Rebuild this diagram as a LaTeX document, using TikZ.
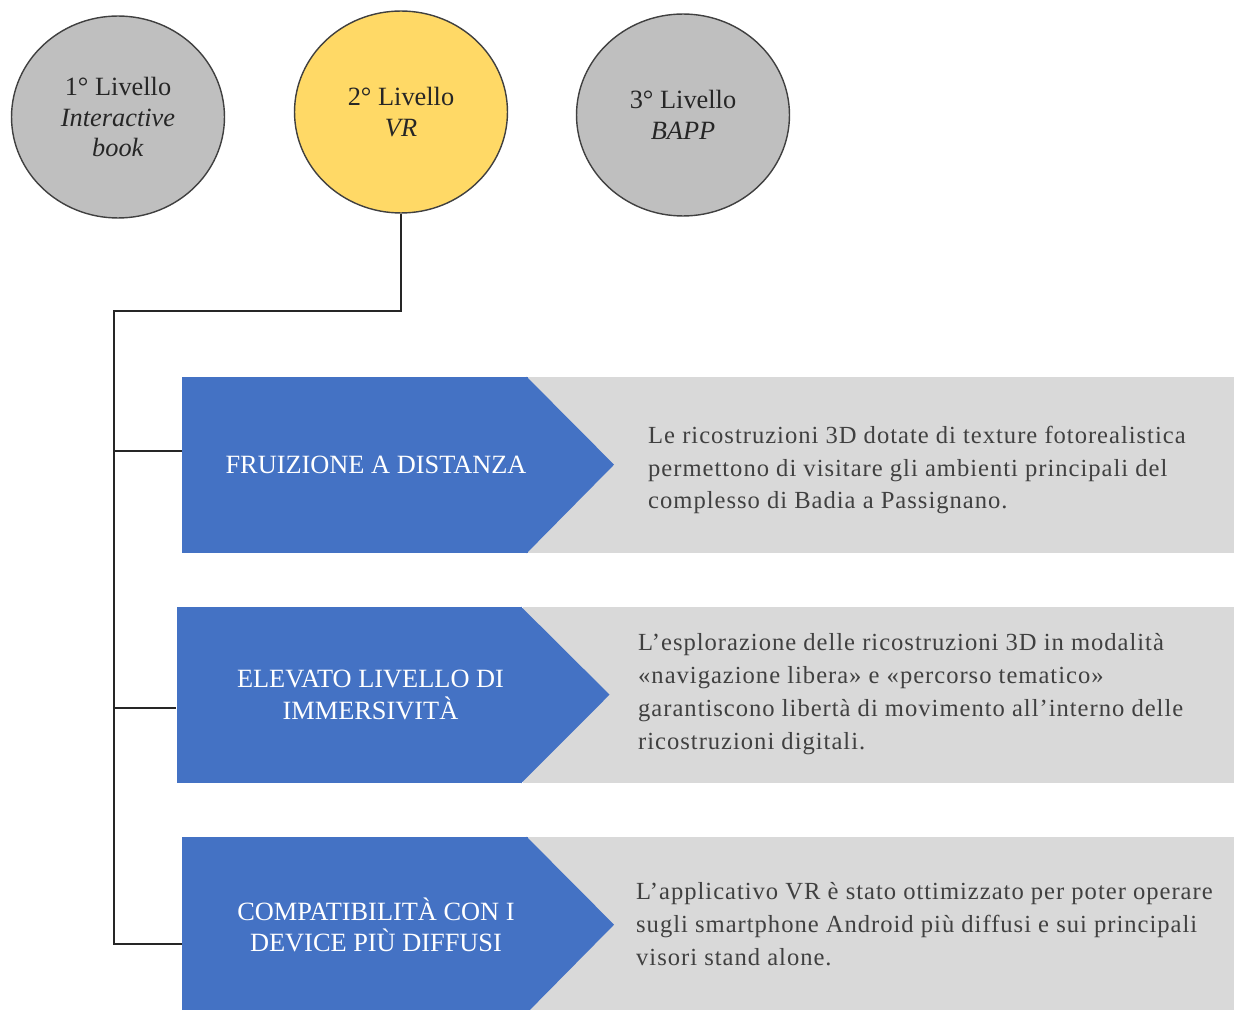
\documentclass[tikz,border=0pt]{standalone}
\usepackage{fontspec}
\setmainfont{Liberation Serif}
\usetikzlibrary{shapes.geometric}
\definecolor{levelgray}{HTML}{BFBFBF}
\definecolor{levelyellow}{HTML}{FFD966}
\definecolor{featblue}{HTML}{4472C4}
\definecolor{bandgray}{HTML}{D9D9D9}
\begin{document}
\begin{tikzpicture}[x=0.02cm, y=-0.02cm,
  level/.style={ellipse, draw=black!75, line width=0.8pt, minimum width=4.26cm,
    minimum height=4.04cm, align=center, text=black!85,
    font=\fontsize{15}{17.6}\selectfont},
  featbox/.style={fill=featblue, minimum width=6.92cm, minimum height=3.52cm, inner sep=0pt},
  feattext/.style={text=white, align=center, xshift=0.42cm,
    font=\fontsize{15}{18}\selectfont},
  desc/.style={anchor=west, align=left, text=black!75,
    font=\fontsize{14}{18.7}\selectfont\addfontfeature{LetterSpace=4}},
  link/.style={draw=black!85, line width=0.9pt}]
  \clip (0,0) rectangle (1234,1010);
  % Levels
  \node (book) [level, fill=levelgray] at (118,117) {1° Livello\\ \textit{Interactive}\\ \textit{book}};
  \node (vr) [level, fill=levelyellow] at (401,112) {2° Livello\\ \textit{VR}};
  \node (bapp) [level, fill=levelgray] at (683,115) {3° Livello\\ \textit{BAPP}};
  % Features of the VR level
  \node (fruizione) [featbox, label={[feattext]center:FRUIZIONE A DISTANZA}] at (355,465) {};
  \fill[bandgray] (fruizione.north east) rectangle (1234,553);
  \fill[featblue] ([xshift=-1pt]fruizione.north east) -- ++(87.5,88) -- ([xshift=-1pt]fruizione.south east) -- cycle;
  \node[desc] at (642,470) {Le ricostruzioni 3D dotate di texture fotorealistica\\
    permettono di visitare gli ambienti principali del\\
    complesso di Badia a Passignano.};

  \node (immersivita) [featbox, label={[feattext]center:ELEVATO LIVELLO DI\\ IMMERSIVITÀ}] at (349.5,695) {};
  \fill[bandgray] (immersivita.north east) rectangle (1234,783);
  \fill[featblue] ([xshift=-1pt]immersivita.north east) -- ++(88.5,88) -- ([xshift=-1pt]immersivita.south east) -- cycle;
  \node[desc] at (632,694) {L’esplorazione delle ricostruzioni 3D in modalità\\
    «navigazione libera» e «percorso tematico»\\
    garantiscono libertà di movimento all’interno delle\\
    ricostruzioni digitali.};

  \node (device) [featbox, label={[feattext]center:COMPATIBILITÀ CON I\\ DEVICE PIÙ DIFFUSI}] at (355,925) {};
  \fill[bandgray] (device.north east) rectangle (1234,1013);
  \fill[featblue] ([xshift=-1pt]device.north east) -- ++(87.5,88) -- ([xshift=-1pt]device.south east) -- cycle;
  \node[desc] at (630,924) {L’applicativo VR è stato ottimizzato per poter operare\\
    sugli smartphone Android più diffusi e sui principali\\
    visori stand alone.};
  % Tree connectors
  \coordinate (trunk) at (114,311);
  \coordinate (b1) at (114,451);
  \coordinate (b2) at (114,708);
  \coordinate (b3) at (114,944);
  \draw[link] (vr.south) |- (trunk) -- (b3) -- (b3 -| device.west);
  \draw[link] (b1) -- (b1 -| fruizione.west);
  \draw[link] (b2) -- (b2 -| immersivita.west);
\end{tikzpicture}
\end{document}
